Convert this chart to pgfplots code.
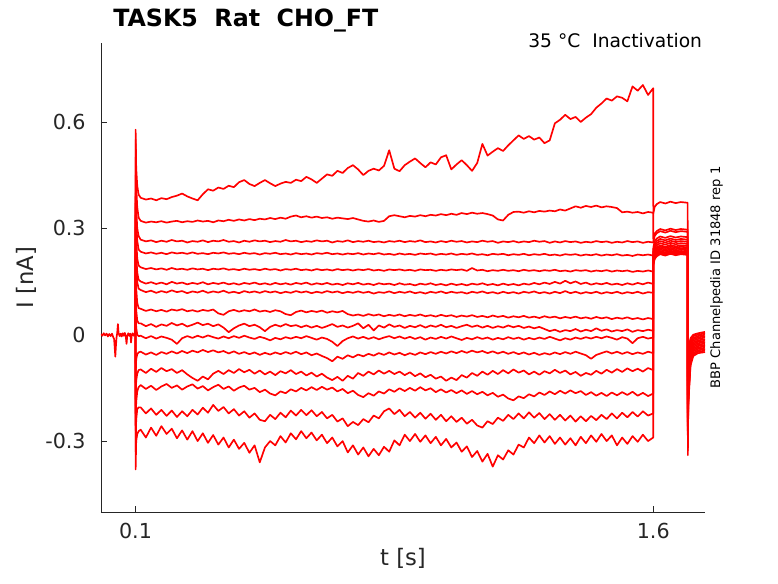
\documentclass[border=0pt]{standalone}
\usepackage{fontspec}
\setmainfont{DejaVu Sans}
\usepackage{pgfplots}
\pgfplotsset{compat=1.18}
\usepackage{pgfplotstable}
\definecolor{axgray}{rgb}{0.15,0.15,0.15}
\tikzset{tr/.style={red, line width=1.25pt, line join=round, mark=none}}

\pgfplotstableread[row sep=\\]{t y\\
0 0.002\\0.004 -0.003\\0.008 0.004\\0.012 -0.002\\0.016 0.003\\0.02 -0.005\\0.024 0.002\\0.028 -0.004\\0.032 0.003\\0.035 -0.006\\
0.038 -0.012\\0.04 -0.04\\0.0415 -0.062\\0.043 -0.035\\0.045 -0.008\\0.047 0.005\\0.049 0.03\\0.051 0.004\\0.054 -0.004\\0.057 0.003\\
0.06 -0.005\\0.063 0.004\\0.066 -0.003\\0.069 0.005\\0.072 -0.006\\0.074 -0.026\\0.076 -0.004\\0.079 0.004\\0.082 -0.003\\0.085 0.003\\
0.087 -0.022\\0.089 -0.002\\0.092 0.004\\0.095 -0.003\\0.098 0.003\\0.1 0\\
}\trbase

% trace 1
\pgfplotstableread[row sep=\\]{t y\\
0.1 0\\0.1003 0.578\\0.102 0.470\\0.105 0.420\\0.109 0.395\\
0.115 0.386\\0.13 0.381\\0.145 0.384\\0.16 0.379\\0.175 0.385\\0.19 0.382\\0.205 0.388\\0.22 0.392\\0.235 0.398\\0.25 0.390\\
0.265 0.384\\0.28 0.379\\0.295 0.396\\0.31 0.410\\0.325 0.406\\0.34 0.415\\0.355 0.411\\0.37 0.420\\0.385 0.416\\0.4 0.430\\
0.415 0.436\\0.43 0.425\\0.445 0.419\\0.46 0.428\\0.475 0.436\\0.49 0.427\\0.505 0.419\\0.52 0.426\\0.535 0.431\\0.55 0.428\\
0.565 0.437\\0.58 0.433\\0.595 0.445\\0.61 0.438\\0.625 0.428\\0.64 0.440\\0.655 0.452\\0.67 0.448\\0.685 0.462\\0.7 0.456\\
0.715 0.470\\0.73 0.478\\0.745 0.466\\0.76 0.450\\0.775 0.462\\0.79 0.468\\0.805 0.463\\0.82 0.476\\0.835 0.520\\0.85 0.468\\
0.865 0.461\\0.88 0.478\\0.895 0.488\\0.91 0.497\\0.925 0.484\\0.94 0.472\\0.955 0.486\\0.97 0.480\\0.985 0.500\\1.0 0.506\\
1.015 0.466\\1.03 0.480\\1.045 0.492\\1.06 0.478\\1.075 0.462\\1.09 0.484\\1.105 0.538\\1.12 0.505\\1.135 0.516\\1.15 0.526\\
1.165 0.518\\1.18 0.534\\1.195 0.548\\1.21 0.562\\1.225 0.552\\1.24 0.560\\1.255 0.550\\1.27 0.556\\1.285 0.540\\1.3 0.548\\
1.315 0.596\\1.33 0.606\\1.345 0.620\\1.36 0.608\\1.375 0.614\\1.39 0.600\\1.405 0.612\\1.42 0.622\\1.435 0.640\\1.45 0.652\\
1.465 0.666\\1.48 0.660\\1.495 0.672\\1.51 0.668\\1.525 0.658\\1.54 0.700\\1.555 0.688\\1.57 0.704\\1.585 0.676\\1.6 0.695\\
1.6003 0.342\\1.604 0.360\\1.61 0.368\\1.62 0.374\\1.635 0.370\\1.65 0.375\\1.665 0.371\\1.68 0.374\\1.6997 0.372\\
1.7003 -0.150\\1.7015 -0.090\\1.704 -0.030\\1.708 -0.010\\1.716 0.000\\1.73 0.004\\1.75 0.008\\
}\tra

% trace 2
\pgfplotstableread[row sep=\\]{t y\\
0.1 0\\0.1003 0.550\\0.102 0.420\\0.105 0.360\\0.109 0.330\\
0.115 0.321\\0.13 0.316\\0.145 0.319\\0.16 0.317\\0.175 0.320\\0.19 0.316\\0.205 0.319\\0.22 0.321\\0.235 0.317\\0.25 0.320\\
0.265 0.318\\0.28 0.322\\0.295 0.319\\0.31 0.321\\0.325 0.317\\0.34 0.322\\0.355 0.320\\0.37 0.324\\0.385 0.321\\0.4 0.325\\
0.415 0.322\\0.43 0.326\\0.445 0.323\\0.46 0.327\\0.475 0.325\\0.49 0.329\\0.505 0.326\\0.52 0.330\\0.535 0.327\\0.55 0.333\\
0.565 0.336\\0.58 0.331\\0.595 0.334\\0.61 0.330\\0.625 0.333\\0.64 0.329\\0.655 0.331\\0.67 0.327\\0.685 0.330\\0.7 0.328\\
0.715 0.326\\0.73 0.329\\0.745 0.325\\0.76 0.321\\0.775 0.319\\0.79 0.322\\0.805 0.318\\0.82 0.321\\0.835 0.334\\0.85 0.337\\
0.865 0.334\\0.88 0.331\\0.895 0.335\\0.91 0.333\\0.925 0.337\\0.94 0.334\\0.955 0.338\\0.97 0.336\\0.985 0.340\\1.0 0.337\\
1.015 0.341\\1.03 0.338\\1.045 0.343\\1.06 0.340\\1.075 0.344\\1.09 0.341\\1.105 0.343\\1.12 0.340\\1.135 0.336\\1.15 0.325\\
1.165 0.322\\1.18 0.338\\1.195 0.346\\1.21 0.347\\1.225 0.344\\1.24 0.348\\1.255 0.345\\1.27 0.349\\1.285 0.347\\1.3 0.350\\
1.315 0.348\\1.33 0.353\\1.345 0.350\\1.36 0.356\\1.375 0.362\\1.39 0.358\\1.405 0.363\\1.42 0.360\\1.435 0.364\\1.45 0.359\\
1.465 0.362\\1.48 0.360\\1.495 0.357\\1.51 0.345\\1.525 0.347\\1.54 0.344\\1.555 0.346\\1.57 0.342\\1.585 0.346\\1.6 0.344\\
1.6003 0.266\\1.604 0.284\\1.61 0.292\\1.62 0.298\\1.635 0.294\\1.65 0.299\\1.665 0.295\\1.68 0.298\\1.6997 0.296\\
1.7003 -0.164\\1.7015 -0.098\\1.704 -0.039\\1.708 -0.016\\1.716 -0.004\\1.73 0.000\\1.75 0.004\\
}\trb

% trace 3
\pgfplotstableread[row sep=\\]{t y\\
0.1 0\\0.1003 0.500\\0.102 0.360\\0.105 0.300\\0.109 0.278\\
0.115 0.268\\0.13 0.263\\0.145 0.266\\0.16 0.261\\0.175 0.265\\0.19 0.262\\0.205 0.267\\0.22 0.263\\0.235 0.265\\0.25 0.260\\
0.265 0.264\\0.28 0.262\\0.295 0.266\\0.31 0.261\\0.325 0.265\\0.34 0.263\\0.355 0.267\\0.37 0.262\\0.385 0.264\\0.4 0.260\\
0.415 0.265\\0.43 0.262\\0.445 0.266\\0.46 0.263\\0.475 0.265\\0.49 0.261\\0.505 0.264\\0.52 0.262\\0.535 0.267\\0.55 0.263\\
0.565 0.265\\0.58 0.261\\0.595 0.264\\0.61 0.262\\0.625 0.266\\0.64 0.263\\0.655 0.265\\0.67 0.260\\0.685 0.264\\0.7 0.262\\
0.715 0.266\\0.73 0.261\\0.745 0.264\\0.76 0.262\\0.775 0.265\\0.79 0.261\\0.805 0.263\\0.82 0.260\\0.835 0.264\\0.85 0.262\\
0.865 0.265\\0.88 0.261\\0.895 0.264\\0.91 0.262\\0.925 0.266\\0.94 0.261\\0.955 0.263\\0.97 0.260\\0.985 0.264\\1.0 0.261\\
1.015 0.265\\1.03 0.262\\1.045 0.264\\1.06 0.260\\1.075 0.263\\1.09 0.261\\1.105 0.265\\1.12 0.262\\1.135 0.264\\1.15 0.259\\
1.165 0.263\\1.18 0.261\\1.195 0.264\\1.21 0.260\\1.225 0.263\\1.24 0.261\\1.255 0.265\\1.27 0.262\\1.285 0.264\\1.3 0.259\\
1.315 0.263\\1.33 0.260\\1.345 0.264\\1.36 0.261\\1.375 0.263\\1.39 0.259\\1.405 0.262\\1.42 0.260\\1.435 0.264\\1.45 0.261\\
1.465 0.263\\1.48 0.259\\1.495 0.262\\1.51 0.260\\1.525 0.264\\1.54 0.261\\1.555 0.263\\1.57 0.259\\1.585 0.262\\1.6 0.260\\
1.6003 0.260\\1.604 0.278\\1.61 0.286\\1.62 0.292\\1.635 0.288\\1.65 0.293\\1.665 0.289\\1.68 0.292\\1.6997 0.290\\
1.7003 -0.177\\1.7015 -0.106\\1.704 -0.048\\1.708 -0.021\\1.716 -0.009\\1.73 -0.004\\1.75 0.000\\
}\trc

% trace 4
\pgfplotstableread[row sep=\\]{t y\\
0.1 0\\0.1003 0.450\\0.102 0.320\\0.105 0.265\\0.109 0.240\\
0.115 0.234\\0.13 0.229\\0.145 0.232\\0.16 0.228\\0.175 0.231\\0.19 0.227\\0.205 0.232\\0.22 0.229\\0.235 0.231\\0.25 0.228\\
0.265 0.232\\0.28 0.228\\0.295 0.230\\0.31 0.227\\0.325 0.231\\0.34 0.229\\0.355 0.232\\0.37 0.228\\0.385 0.230\\0.4 0.227\\
0.415 0.231\\0.43 0.228\\0.445 0.230\\0.46 0.226\\0.475 0.230\\0.49 0.228\\0.505 0.231\\0.52 0.227\\0.535 0.229\\0.55 0.226\\
0.565 0.230\\0.58 0.227\\0.595 0.229\\0.61 0.226\\0.625 0.230\\0.64 0.228\\0.655 0.231\\0.67 0.227\\0.685 0.229\\0.7 0.226\\
0.715 0.229\\0.73 0.227\\0.745 0.230\\0.76 0.226\\0.775 0.229\\0.79 0.227\\0.805 0.230\\0.82 0.226\\0.835 0.228\\0.85 0.225\\
0.865 0.229\\0.88 0.226\\0.895 0.228\\0.91 0.225\\0.925 0.229\\0.94 0.227\\0.955 0.229\\0.97 0.225\\0.985 0.228\\1.0 0.226\\
1.015 0.229\\1.03 0.225\\1.045 0.228\\1.06 0.226\\1.075 0.229\\1.09 0.225\\1.105 0.227\\1.12 0.224\\1.135 0.228\\1.15 0.226\\
1.165 0.228\\1.18 0.224\\1.195 0.227\\1.21 0.225\\1.225 0.228\\1.24 0.224\\1.255 0.227\\1.27 0.225\\1.285 0.228\\1.3 0.224\\
1.315 0.226\\1.33 0.223\\1.345 0.227\\1.36 0.225\\1.375 0.227\\1.39 0.223\\1.405 0.226\\1.42 0.224\\1.435 0.227\\1.45 0.223\\
1.465 0.226\\1.48 0.224\\1.495 0.227\\1.51 0.223\\1.525 0.225\\1.54 0.222\\1.555 0.226\\1.57 0.224\\1.585 0.226\\1.6 0.223\\
1.6003 0.245\\1.604 0.263\\1.61 0.271\\1.62 0.277\\1.635 0.273\\1.65 0.278\\1.665 0.274\\1.68 0.277\\1.6997 0.275\\
1.7003 -0.191\\1.7015 -0.115\\1.704 -0.057\\1.708 -0.027\\1.716 -0.013\\1.73 -0.008\\1.75 -0.004\\
}\trd

% trace 5
\pgfplotstableread[row sep=\\]{t y\\
0.1 0\\0.1003 0.400\\0.102 0.270\\0.105 0.215\\0.109 0.195\\
0.115 0.190\\0.13 0.185\\0.145 0.188\\0.16 0.184\\0.175 0.187\\0.19 0.183\\0.205 0.188\\0.22 0.184\\0.235 0.186\\0.25 0.183\\
0.265 0.187\\0.28 0.184\\0.295 0.186\\0.31 0.182\\0.325 0.186\\0.34 0.184\\0.355 0.187\\0.37 0.183\\0.385 0.185\\0.4 0.182\\
0.415 0.186\\0.43 0.183\\0.445 0.185\\0.46 0.182\\0.475 0.186\\0.49 0.183\\0.505 0.185\\0.52 0.181\\0.535 0.185\\0.55 0.183\\
0.565 0.186\\0.58 0.182\\0.595 0.184\\0.61 0.181\\0.625 0.185\\0.64 0.182\\0.655 0.184\\0.67 0.181\\0.685 0.185\\0.7 0.182\\
0.715 0.184\\0.73 0.181\\0.745 0.184\\0.76 0.182\\0.775 0.185\\0.79 0.181\\0.805 0.183\\0.82 0.180\\0.835 0.184\\0.85 0.182\\
0.865 0.184\\0.88 0.181\\0.895 0.183\\0.91 0.180\\0.925 0.184\\0.94 0.182\\0.955 0.183\\0.97 0.180\\0.985 0.183\\1.0 0.181\\
1.015 0.184\\1.03 0.182\\1.045 0.184\\1.06 0.180\\1.075 0.188\\1.09 0.181\\1.105 0.183\\1.12 0.179\\1.135 0.182\\1.15 0.180\\
1.165 0.183\\1.18 0.180\\1.195 0.182\\1.21 0.179\\1.225 0.183\\1.24 0.180\\1.255 0.182\\1.27 0.179\\1.285 0.182\\1.3 0.180\\
1.315 0.183\\1.33 0.179\\1.345 0.181\\1.36 0.178\\1.375 0.182\\1.39 0.180\\1.405 0.182\\1.42 0.178\\1.435 0.181\\1.45 0.179\\
1.465 0.182\\1.48 0.178\\1.495 0.181\\1.51 0.179\\1.525 0.181\\1.54 0.177\\1.555 0.180\\1.57 0.178\\1.585 0.181\\1.6 0.178\\
1.6003 0.238\\1.604 0.256\\1.61 0.264\\1.62 0.270\\1.635 0.266\\1.65 0.271\\1.665 0.267\\1.68 0.270\\1.6997 0.268\\
1.7003 -0.204\\1.7015 -0.122\\1.704 -0.066\\1.708 -0.032\\1.716 -0.017\\1.73 -0.012\\1.75 -0.008\\
}\tre

% trace 6
\pgfplotstableread[row sep=\\]{t y\\
0.1 0\\0.1003 0.360\\0.102 0.230\\0.105 0.175\\0.109 0.155\\
0.115 0.150\\0.13 0.144\\0.145 0.148\\0.16 0.143\\0.175 0.147\\0.19 0.142\\0.205 0.149\\0.22 0.144\\0.235 0.147\\0.25 0.142\\
0.265 0.146\\0.28 0.143\\0.295 0.148\\0.31 0.142\\0.325 0.146\\0.34 0.143\\0.355 0.147\\0.37 0.142\\0.385 0.145\\0.4 0.141\\
0.415 0.146\\0.43 0.143\\0.445 0.147\\0.46 0.142\\0.475 0.145\\0.49 0.141\\0.505 0.146\\0.52 0.142\\0.535 0.145\\0.55 0.141\\
0.565 0.146\\0.58 0.143\\0.595 0.147\\0.61 0.141\\0.625 0.145\\0.64 0.142\\0.655 0.146\\0.67 0.141\\0.685 0.144\\0.7 0.140\\
0.715 0.145\\0.73 0.142\\0.745 0.146\\0.76 0.141\\0.775 0.144\\0.79 0.140\\0.805 0.145\\0.82 0.142\\0.835 0.144\\0.85 0.140\\
0.865 0.145\\0.88 0.141\\0.895 0.143\\0.91 0.139\\0.925 0.144\\0.94 0.141\\0.955 0.145\\0.97 0.140\\0.985 0.143\\1.0 0.139\\
1.015 0.144\\1.03 0.140\\1.045 0.143\\1.06 0.139\\1.075 0.144\\1.09 0.141\\1.105 0.145\\1.12 0.140\\1.135 0.143\\1.15 0.139\\
1.165 0.144\\1.18 0.140\\1.195 0.143\\1.21 0.139\\1.225 0.144\\1.24 0.141\\1.255 0.146\\1.27 0.142\\1.285 0.147\\1.3 0.143\\
1.315 0.149\\1.33 0.144\\1.345 0.152\\1.36 0.145\\1.375 0.150\\1.39 0.143\\1.405 0.147\\1.42 0.141\\1.435 0.145\\1.45 0.142\\
1.465 0.146\\1.48 0.141\\1.495 0.144\\1.51 0.140\\1.525 0.145\\1.54 0.141\\1.555 0.146\\1.57 0.142\\1.585 0.147\\1.6 0.143\\
1.6003 0.232\\1.604 0.250\\1.61 0.258\\1.62 0.264\\1.635 0.260\\1.65 0.265\\1.665 0.261\\1.68 0.264\\1.6997 0.262\\
1.7003 -0.218\\1.7015 -0.131\\1.704 -0.075\\1.708 -0.038\\1.716 -0.022\\1.73 -0.016\\1.75 -0.013\\
}\trf

% trace 7
\pgfplotstableread[row sep=\\]{t y\\
0.1 0\\0.1003 0.330\\0.102 0.200\\0.105 0.148\\0.109 0.130\\
0.115 0.126\\0.13 0.120\\0.145 0.124\\0.16 0.118\\0.175 0.123\\0.19 0.119\\0.205 0.125\\0.22 0.120\\0.235 0.123\\0.25 0.117\\
0.265 0.122\\0.28 0.119\\0.295 0.124\\0.31 0.118\\0.325 0.122\\0.34 0.119\\0.355 0.124\\0.37 0.118\\0.385 0.121\\0.4 0.117\\
0.415 0.123\\0.43 0.119\\0.445 0.122\\0.46 0.118\\0.475 0.123\\0.49 0.119\\0.505 0.122\\0.52 0.117\\0.535 0.121\\0.55 0.118\\
0.565 0.123\\0.58 0.119\\0.595 0.122\\0.61 0.117\\0.625 0.121\\0.64 0.118\\0.655 0.123\\0.67 0.119\\0.685 0.122\\0.7 0.117\\
0.715 0.121\\0.73 0.118\\0.745 0.122\\0.76 0.118\\0.775 0.121\\0.79 0.116\\0.805 0.120\\0.82 0.118\\0.835 0.122\\0.85 0.117\\
0.865 0.121\\0.88 0.118\\0.895 0.122\\0.91 0.117\\0.925 0.120\\0.94 0.116\\0.955 0.121\\0.97 0.118\\0.985 0.122\\1.0 0.117\\
1.015 0.121\\1.03 0.118\\1.045 0.120\\1.06 0.116\\1.075 0.121\\1.09 0.118\\1.105 0.122\\1.12 0.117\\1.135 0.120\\1.15 0.116\\
1.165 0.121\\1.18 0.117\\1.195 0.120\\1.21 0.116\\1.225 0.121\\1.24 0.118\\1.255 0.122\\1.27 0.117\\1.285 0.120\\1.3 0.116\\
1.315 0.121\\1.33 0.117\\1.345 0.123\\1.36 0.117\\1.375 0.121\\1.39 0.116\\1.405 0.120\\1.42 0.117\\1.435 0.121\\1.45 0.116\\
1.465 0.120\\1.48 0.117\\1.495 0.121\\1.51 0.116\\1.525 0.120\\1.54 0.117\\1.555 0.121\\1.57 0.116\\1.585 0.120\\1.6 0.118\\
1.6003 0.226\\1.604 0.244\\1.61 0.252\\1.62 0.258\\1.635 0.254\\1.65 0.259\\1.665 0.255\\1.68 0.258\\1.6997 0.256\\
1.7003 -0.232\\1.7015 -0.139\\1.704 -0.084\\1.708 -0.043\\1.716 -0.026\\1.73 -0.020\\1.75 -0.017\\
}\trg

% trace 8
\pgfplotstableread[row sep=\\]{t y\\
0.1 0\\0.1003 0.250\\0.102 0.130\\0.105 0.090\\0.109 0.075\\
0.115 0.073\\0.13 0.067\\0.145 0.071\\0.16 0.066\\0.175 0.070\\0.19 0.065\\0.205 0.071\\0.22 0.068\\0.235 0.072\\0.25 0.066\\
0.265 0.069\\0.28 0.065\\0.295 0.070\\0.31 0.067\\0.325 0.071\\0.34 0.060\\0.355 0.056\\0.37 0.066\\0.385 0.070\\0.4 0.065\\
0.415 0.069\\0.43 0.066\\0.445 0.071\\0.46 0.065\\0.475 0.068\\0.49 0.064\\0.505 0.069\\0.52 0.066\\0.535 0.058\\0.55 0.055\\
0.565 0.064\\0.58 0.068\\0.595 0.063\\0.61 0.067\\0.625 0.064\\0.64 0.068\\0.655 0.062\\0.67 0.066\\0.685 0.063\\0.7 0.067\\
0.715 0.058\\0.73 0.054\\0.745 0.057\\0.76 0.053\\0.775 0.058\\0.79 0.054\\0.805 0.057\\0.82 0.052\\0.835 0.056\\0.85 0.053\\
0.865 0.057\\0.88 0.052\\0.895 0.056\\0.91 0.053\\0.925 0.057\\0.94 0.052\\0.955 0.055\\0.97 0.051\\0.985 0.056\\1.0 0.052\\
1.015 0.055\\1.03 0.050\\1.045 0.054\\1.06 0.051\\1.075 0.055\\1.09 0.050\\1.105 0.053\\1.12 0.049\\1.135 0.054\\1.15 0.050\\
1.165 0.053\\1.18 0.048\\1.195 0.052\\1.21 0.049\\1.225 0.053\\1.24 0.048\\1.255 0.051\\1.27 0.047\\1.285 0.052\\1.3 0.048\\
1.315 0.051\\1.33 0.046\\1.345 0.050\\1.36 0.047\\1.375 0.051\\1.39 0.046\\1.405 0.049\\1.42 0.045\\1.435 0.050\\1.45 0.046\\
1.465 0.049\\1.48 0.044\\1.495 0.048\\1.51 0.045\\1.525 0.049\\1.54 0.044\\1.555 0.047\\1.57 0.043\\1.585 0.047\\1.6 0.044\\
1.6003 0.220\\1.604 0.238\\1.61 0.246\\1.62 0.252\\1.635 0.248\\1.65 0.253\\1.665 0.249\\1.68 0.252\\1.6997 0.250\\
1.7003 -0.245\\1.7015 -0.147\\1.704 -0.093\\1.708 -0.049\\1.716 -0.030\\1.73 -0.024\\1.75 -0.021\\
}\trh

% trace 9
\pgfplotstableread[row sep=\\]{t y\\
0.1 0\\0.1003 0.150\\0.102 0.070\\0.105 0.040\\0.109 0.032\\
0.115 0.032\\0.13 0.024\\0.145 0.030\\0.16 0.022\\0.175 0.029\\0.19 0.025\\0.205 0.033\\0.22 0.026\\0.235 0.031\\0.25 0.023\\
0.265 0.028\\0.28 0.034\\0.295 0.027\\0.31 0.031\\0.325 0.024\\0.34 0.029\\0.355 0.020\\0.37 0.007\\0.385 0.018\\0.4 0.026\\
0.415 0.031\\0.43 0.024\\0.445 0.028\\0.46 0.021\\0.475 0.010\\0.49 0.022\\0.505 0.028\\0.52 0.023\\0.535 0.030\\0.55 0.024\\
0.565 0.027\\0.58 0.021\\0.595 0.026\\0.61 0.020\\0.625 0.025\\0.64 0.019\\0.655 0.024\\0.67 0.030\\0.685 0.022\\0.7 0.026\\
0.715 0.020\\0.73 0.025\\0.745 0.032\\0.76 0.018\\0.775 0.028\\0.79 0.012\\0.805 0.026\\0.82 0.020\\0.835 0.029\\0.85 0.022\\
0.865 0.026\\0.88 0.019\\0.895 0.025\\0.91 0.021\\0.925 0.027\\0.94 0.020\\0.955 0.026\\0.97 0.022\\0.985 0.028\\1.0 0.021\\
1.015 0.025\\1.03 0.019\\1.045 0.024\\1.06 0.028\\1.075 0.022\\1.09 0.026\\1.105 0.020\\1.12 0.025\\1.135 0.019\\1.15 0.024\\
1.165 0.020\\1.18 0.026\\1.195 0.021\\1.21 0.025\\1.225 0.019\\1.24 0.023\\1.255 0.018\\1.27 0.022\\1.285 0.016\\1.3 0.010\\
1.315 0.014\\1.33 0.008\\1.345 0.013\\1.36 0.010\\1.375 0.016\\1.39 0.009\\1.405 0.014\\1.42 0.010\\1.435 0.018\\1.45 0.011\\
1.465 0.015\\1.48 0.009\\1.495 0.013\\1.51 0.010\\1.525 0.015\\1.54 0.008\\1.555 0.013\\1.57 0.010\\1.585 0.014\\1.6 0.011\\
1.6003 0.216\\1.604 0.234\\1.61 0.242\\1.62 0.248\\1.635 0.244\\1.65 0.249\\1.665 0.245\\1.68 0.248\\1.6997 0.246\\
1.7003 -0.259\\1.7015 -0.155\\1.704 -0.102\\1.708 -0.054\\1.716 -0.034\\1.73 -0.028\\1.75 -0.025\\
}\tri

% trace 10
\pgfplotstableread[row sep=\\]{t y\\
0.1 0\\0.1003 0.080\\0.102 0.020\\0.105 0.000\\0.109 -0.004\\
0.115 -0.003\\0.13 -0.010\\0.145 -0.004\\0.16 -0.011\\0.175 -0.005\\0.19 -0.009\\0.205 -0.014\\0.22 -0.026\\0.235 -0.010\\0.25 -0.004\\
0.265 -0.009\\0.28 -0.003\\0.295 -0.008\\0.31 -0.002\\0.325 -0.007\\0.34 -0.011\\0.355 -0.005\\0.37 -0.010\\0.385 -0.004\\0.4 -0.009\\
0.415 -0.003\\0.43 -0.008\\0.445 -0.012\\0.46 -0.006\\0.475 -0.010\\0.49 -0.016\\0.505 -0.009\\0.52 -0.013\\0.535 -0.007\\0.55 -0.011\\
0.565 -0.006\\0.58 -0.010\\0.595 -0.004\\0.61 -0.009\\0.625 -0.014\\0.64 -0.008\\0.655 -0.012\\0.67 -0.020\\0.685 -0.032\\0.7 -0.018\\
0.715 -0.010\\0.73 -0.005\\0.745 -0.011\\0.76 -0.006\\0.775 -0.012\\0.79 -0.007\\0.805 -0.013\\0.82 -0.008\\0.835 -0.004\\0.85 -0.010\\
0.865 -0.005\\0.88 -0.011\\0.895 -0.006\\0.91 -0.012\\0.925 -0.007\\0.94 -0.014\\0.955 -0.008\\0.97 -0.012\\0.985 -0.006\\1.0 -0.011\\
1.015 -0.005\\1.03 -0.010\\1.045 -0.015\\1.06 -0.009\\1.075 -0.013\\1.09 -0.007\\1.105 -0.012\\1.12 -0.008\\1.135 -0.014\\1.15 -0.009\\
1.165 -0.013\\1.18 -0.007\\1.195 -0.012\\1.21 -0.008\\1.225 -0.014\\1.24 -0.009\\1.255 -0.013\\1.27 -0.008\\1.285 -0.012\\1.3 -0.006\\
1.315 -0.011\\1.33 -0.016\\1.345 -0.010\\1.36 -0.014\\1.375 -0.008\\1.39 -0.012\\1.405 -0.007\\1.42 -0.011\\1.435 -0.006\\1.45 -0.010\\
1.465 -0.005\\1.48 -0.009\\1.495 -0.014\\1.51 -0.007\\1.525 -0.011\\1.54 -0.024\\1.555 -0.010\\1.57 -0.006\\1.585 -0.011\\1.6 -0.008\\
1.6003 0.212\\1.604 0.230\\1.61 0.238\\1.62 0.244\\1.635 0.240\\1.65 0.245\\1.665 0.241\\1.68 0.244\\1.6997 0.242\\
1.7003 -0.272\\1.7015 -0.163\\1.704 -0.111\\1.708 -0.060\\1.716 -0.039\\1.73 -0.032\\1.75 -0.029\\
}\trj

% trace 11
\pgfplotstableread[row sep=\\]{t y\\
0.1 0\\0.1003 -0.120\\0.102 -0.070\\0.105 -0.055\\0.109 -0.050\\
0.115 -0.048\\0.13 -0.056\\0.145 -0.050\\0.16 -0.057\\0.175 -0.049\\0.19 -0.054\\0.205 -0.047\\0.22 -0.053\\0.235 -0.046\\0.25 -0.052\\
0.265 -0.045\\0.28 -0.050\\0.295 -0.043\\0.31 -0.049\\0.325 -0.044\\0.34 -0.050\\0.355 -0.046\\0.37 -0.053\\0.385 -0.047\\0.4 -0.054\\
0.415 -0.049\\0.43 -0.055\\0.445 -0.050\\0.46 -0.057\\0.475 -0.051\\0.49 -0.056\\0.505 -0.050\\0.52 -0.055\\0.535 -0.049\\0.55 -0.054\\
0.565 -0.048\\0.58 -0.055\\0.595 -0.050\\0.61 -0.058\\0.625 -0.053\\0.64 -0.060\\0.655 -0.066\\0.67 -0.075\\0.685 -0.062\\0.7 -0.068\\
0.715 -0.058\\0.73 -0.064\\0.745 -0.056\\0.76 -0.061\\0.775 -0.054\\0.79 -0.059\\0.805 -0.052\\0.82 -0.057\\0.835 -0.050\\0.85 -0.056\\
0.865 -0.051\\0.88 -0.058\\0.895 -0.052\\0.91 -0.057\\0.925 -0.050\\0.94 -0.055\\0.955 -0.049\\0.97 -0.054\\0.985 -0.048\\1.0 -0.053\\
1.015 -0.047\\1.03 -0.052\\1.045 -0.046\\1.06 -0.051\\1.075 -0.045\\1.09 -0.050\\1.105 -0.046\\1.12 -0.052\\1.135 -0.047\\1.15 -0.053\\
1.165 -0.048\\1.18 -0.054\\1.195 -0.049\\1.21 -0.055\\1.225 -0.050\\1.24 -0.056\\1.255 -0.051\\1.27 -0.057\\1.285 -0.052\\1.3 -0.056\\
1.315 -0.050\\1.33 -0.055\\1.345 -0.049\\1.36 -0.054\\1.375 -0.048\\1.39 -0.053\\1.405 -0.058\\1.42 -0.068\\1.435 -0.057\\1.45 -0.052\\
1.465 -0.047\\1.48 -0.053\\1.495 -0.048\\1.51 -0.054\\1.525 -0.049\\1.54 -0.055\\1.555 -0.050\\1.57 -0.054\\1.585 -0.048\\1.6 -0.052\\
1.6003 0.208\\1.604 0.226\\1.61 0.234\\1.62 0.240\\1.635 0.236\\1.65 0.241\\1.665 0.237\\1.68 0.240\\1.6997 0.238\\
1.7003 -0.286\\1.7015 -0.172\\1.704 -0.120\\1.708 -0.065\\1.716 -0.043\\1.73 -0.036\\1.75 -0.033\\
}\trk

% trace 12
\pgfplotstableread[row sep=\\]{t y\\
0.1 0\\0.1003 -0.200\\0.102 -0.130\\0.105 -0.110\\0.109 -0.100\\
0.115 -0.098\\0.13 -0.108\\0.145 -0.096\\0.16 -0.105\\0.175 -0.094\\0.19 -0.103\\0.205 -0.097\\0.22 -0.108\\0.235 -0.100\\0.25 -0.112\\
0.265 -0.122\\0.28 -0.130\\0.295 -0.118\\0.31 -0.126\\0.325 -0.110\\0.34 -0.102\\0.355 -0.111\\0.37 -0.100\\0.385 -0.108\\0.4 -0.097\\
0.415 -0.106\\0.43 -0.099\\0.445 -0.110\\0.46 -0.101\\0.475 -0.112\\0.49 -0.104\\0.505 -0.114\\0.52 -0.103\\0.535 -0.109\\0.55 -0.100\\
0.565 -0.111\\0.58 -0.104\\0.595 -0.115\\0.61 -0.107\\0.625 -0.118\\0.64 -0.110\\0.655 -0.121\\0.67 -0.128\\0.685 -0.119\\0.7 -0.130\\
0.715 -0.116\\0.73 -0.124\\0.745 -0.108\\0.76 -0.116\\0.775 -0.104\\0.79 -0.112\\0.805 -0.101\\0.82 -0.110\\0.835 -0.102\\0.85 -0.111\\
0.865 -0.104\\0.88 -0.114\\0.895 -0.106\\0.91 -0.117\\0.925 -0.109\\0.94 -0.120\\0.955 -0.113\\0.97 -0.124\\0.985 -0.118\\1.0 -0.130\\
1.015 -0.121\\1.03 -0.128\\1.045 -0.114\\1.06 -0.121\\1.075 -0.108\\1.09 -0.116\\1.105 -0.104\\1.12 -0.113\\1.135 -0.102\\1.15 -0.111\\
1.165 -0.100\\1.18 -0.109\\1.195 -0.098\\1.21 -0.107\\1.225 -0.101\\1.24 -0.112\\1.255 -0.104\\1.27 -0.113\\1.285 -0.103\\1.3 -0.109\\
1.315 -0.099\\1.33 -0.108\\1.345 -0.101\\1.36 -0.112\\1.375 -0.105\\1.39 -0.116\\1.405 -0.108\\1.42 -0.113\\1.435 -0.102\\1.45 -0.110\\
1.465 -0.099\\1.48 -0.107\\1.495 -0.097\\1.51 -0.105\\1.525 -0.095\\1.54 -0.103\\1.555 -0.096\\1.57 -0.104\\1.585 -0.094\\1.6 -0.100\\
1.6003 0.204\\1.604 0.222\\1.61 0.230\\1.62 0.236\\1.635 0.232\\1.65 0.237\\1.665 0.233\\1.68 0.236\\1.6997 0.234\\
1.7003 -0.300\\1.7015 -0.180\\1.704 -0.129\\1.708 -0.071\\1.716 -0.047\\1.73 -0.040\\1.75 -0.037\\
}\trl

% trace 13
\pgfplotstableread[row sep=\\]{t y\\
0.1 0\\0.1003 -0.270\\0.102 -0.190\\0.105 -0.160\\0.109 -0.148\\
0.115 -0.142\\0.13 -0.153\\0.145 -0.144\\0.16 -0.156\\0.175 -0.146\\0.19 -0.139\\0.205 -0.150\\0.22 -0.143\\0.235 -0.155\\0.25 -0.146\\
0.265 -0.140\\0.28 -0.152\\0.295 -0.145\\0.31 -0.157\\0.325 -0.148\\0.34 -0.141\\0.355 -0.153\\0.37 -0.146\\0.385 -0.158\\0.4 -0.149\\
0.415 -0.144\\0.43 -0.155\\0.445 -0.150\\0.46 -0.162\\0.475 -0.155\\0.49 -0.166\\0.505 -0.171\\0.52 -0.160\\0.535 -0.165\\0.55 -0.154\\
0.565 -0.160\\0.58 -0.150\\0.595 -0.157\\0.61 -0.148\\0.625 -0.156\\0.64 -0.147\\0.655 -0.155\\0.67 -0.149\\0.685 -0.160\\0.7 -0.153\\
0.715 -0.165\\0.73 -0.158\\0.745 -0.170\\0.76 -0.176\\0.775 -0.165\\0.79 -0.172\\0.805 -0.160\\0.82 -0.166\\0.835 -0.154\\0.85 -0.161\\
0.865 -0.151\\0.88 -0.159\\0.895 -0.150\\0.91 -0.158\\0.925 -0.148\\0.94 -0.157\\0.955 -0.151\\0.97 -0.162\\0.985 -0.154\\1.0 -0.163\\
1.015 -0.156\\1.03 -0.165\\1.045 -0.157\\1.06 -0.167\\1.075 -0.159\\1.09 -0.168\\1.105 -0.161\\1.12 -0.171\\1.135 -0.164\\1.15 -0.175\\
1.165 -0.169\\1.18 -0.180\\1.195 -0.185\\1.21 -0.174\\1.225 -0.179\\1.24 -0.168\\1.255 -0.174\\1.27 -0.163\\1.285 -0.170\\1.3 -0.160\\
1.315 -0.168\\1.33 -0.158\\1.345 -0.166\\1.36 -0.157\\1.375 -0.165\\1.39 -0.159\\1.405 -0.170\\1.42 -0.162\\1.435 -0.172\\1.45 -0.164\\
1.465 -0.173\\1.48 -0.163\\1.495 -0.171\\1.51 -0.162\\1.525 -0.170\\1.54 -0.161\\1.555 -0.172\\1.57 -0.164\\1.585 -0.173\\1.6 -0.166\\
1.6003 0.201\\1.604 0.219\\1.61 0.227\\1.62 0.233\\1.635 0.229\\1.65 0.234\\1.665 0.230\\1.68 0.233\\1.6997 0.231\\
1.7003 -0.313\\1.7015 -0.188\\1.704 -0.138\\1.708 -0.076\\1.716 -0.052\\1.73 -0.044\\1.75 -0.041\\
}\trm

% trace 14
\pgfplotstableread[row sep=\\]{t y\\
0.1 0\\0.1003 -0.330\\0.102 -0.240\\0.105 -0.210\\0.109 -0.205\\
0.115 -0.205\\0.13 -0.222\\0.145 -0.208\\0.16 -0.226\\0.175 -0.212\\0.19 -0.229\\0.205 -0.214\\0.22 -0.232\\0.235 -0.216\\0.25 -0.230\\
0.265 -0.212\\0.28 -0.225\\0.295 -0.206\\0.31 -0.220\\0.325 -0.198\\0.34 -0.215\\0.355 -0.204\\0.37 -0.222\\0.385 -0.210\\0.4 -0.228\\
0.415 -0.216\\0.43 -0.234\\0.445 -0.222\\0.46 -0.240\\0.475 -0.244\\0.49 -0.226\\0.505 -0.238\\0.52 -0.220\\0.535 -0.233\\0.55 -0.214\\
0.565 -0.228\\0.58 -0.212\\0.595 -0.227\\0.61 -0.213\\0.625 -0.230\\0.64 -0.218\\0.655 -0.236\\0.67 -0.226\\0.685 -0.245\\0.7 -0.236\\
0.715 -0.258\\0.73 -0.246\\0.745 -0.255\\0.76 -0.238\\0.775 -0.247\\0.79 -0.228\\0.805 -0.236\\0.82 -0.216\\0.835 -0.208\\0.85 -0.224\\
0.865 -0.212\\0.88 -0.230\\0.895 -0.218\\0.91 -0.234\\0.925 -0.220\\0.94 -0.237\\0.955 -0.223\\0.97 -0.240\\0.985 -0.226\\1.0 -0.244\\
1.015 -0.230\\1.03 -0.246\\1.045 -0.234\\1.06 -0.251\\1.075 -0.240\\1.09 -0.256\\1.105 -0.262\\1.12 -0.244\\1.135 -0.252\\1.15 -0.234\\
1.165 -0.243\\1.18 -0.226\\1.195 -0.238\\1.21 -0.222\\1.225 -0.236\\1.24 -0.219\\1.255 -0.234\\1.27 -0.221\\1.285 -0.238\\1.3 -0.224\\
1.315 -0.240\\1.33 -0.226\\1.345 -0.242\\1.36 -0.228\\1.375 -0.245\\1.39 -0.230\\1.405 -0.244\\1.42 -0.229\\1.435 -0.241\\1.45 -0.226\\
1.465 -0.238\\1.48 -0.222\\1.495 -0.236\\1.51 -0.220\\1.525 -0.233\\1.54 -0.218\\1.555 -0.231\\1.57 -0.216\\1.585 -0.228\\1.6 -0.222\\
1.6003 0.198\\1.604 0.216\\1.61 0.224\\1.62 0.230\\1.635 0.226\\1.65 0.231\\1.665 0.227\\1.68 0.230\\1.6997 0.228\\
1.7003 -0.327\\1.7015 -0.196\\1.704 -0.147\\1.708 -0.082\\1.716 -0.056\\1.73 -0.048\\1.75 -0.045\\
}\trn

% trace 15
\pgfplotstableread[row sep=\\]{t y\\
0.1 0\\0.1003 -0.380\\0.102 -0.300\\0.105 -0.280\\0.109 -0.272\\
0.115 -0.268\\0.13 -0.290\\0.145 -0.262\\0.16 -0.285\\0.175 -0.258\\0.19 -0.280\\0.205 -0.265\\0.22 -0.292\\0.235 -0.270\\0.25 -0.296\\
0.265 -0.272\\0.28 -0.300\\0.295 -0.278\\0.31 -0.305\\0.325 -0.283\\0.34 -0.310\\0.355 -0.290\\0.37 -0.318\\0.385 -0.296\\0.4 -0.322\\
0.415 -0.305\\0.43 -0.333\\0.445 -0.312\\0.46 -0.360\\0.475 -0.318\\0.49 -0.300\\0.505 -0.312\\0.52 -0.286\\0.535 -0.304\\0.55 -0.278\\
0.565 -0.295\\0.58 -0.272\\0.595 -0.292\\0.61 -0.276\\0.625 -0.298\\0.64 -0.282\\0.655 -0.306\\0.67 -0.290\\0.685 -0.315\\0.7 -0.300\\
0.715 -0.332\\0.73 -0.312\\0.745 -0.338\\0.76 -0.318\\0.775 -0.343\\0.79 -0.322\\0.805 -0.340\\0.82 -0.316\\0.835 -0.330\\0.85 -0.298\\
0.865 -0.312\\0.88 -0.282\\0.895 -0.300\\0.91 -0.280\\0.925 -0.302\\0.94 -0.284\\0.955 -0.306\\0.97 -0.288\\0.985 -0.312\\1.0 -0.294\\
1.015 -0.318\\1.03 -0.304\\1.045 -0.330\\1.06 -0.315\\1.075 -0.345\\1.09 -0.328\\1.105 -0.358\\1.12 -0.336\\1.135 -0.372\\1.15 -0.340\\
1.165 -0.352\\1.18 -0.326\\1.195 -0.338\\1.21 -0.310\\1.225 -0.318\\1.24 -0.290\\1.255 -0.306\\1.27 -0.284\\1.285 -0.304\\1.3 -0.286\\
1.315 -0.308\\1.33 -0.290\\1.345 -0.310\\1.36 -0.292\\1.375 -0.312\\1.39 -0.288\\1.405 -0.306\\1.42 -0.284\\1.435 -0.302\\1.45 -0.280\\
1.465 -0.300\\1.48 -0.284\\1.495 -0.312\\1.51 -0.290\\1.525 -0.308\\1.54 -0.286\\1.555 -0.302\\1.57 -0.282\\1.585 -0.300\\1.6 -0.290\\
1.6003 0.195\\1.604 0.213\\1.61 0.221\\1.62 0.227\\1.635 0.223\\1.65 0.228\\1.665 0.224\\1.68 0.227\\1.6997 0.225\\
1.7003 -0.340\\1.7015 -0.204\\1.704 -0.156\\1.708 -0.087\\1.716 -0.060\\1.73 -0.052\\1.75 -0.049\\
}\tro

\begin{document}
\begin{tikzpicture}
\begin{axis}[
  scale only axis, width=453pt, height=351.75pt,
  xmin=0, xmax=1.75, ymin=-0.5, ymax=0.8225,
  axis lines*=left,
  axis line style={draw=axgray, line width=0.6pt},
  xtick={0.1,1.6}, xticklabels={0.1,1.6},
  ytick={-0.3,0,0.3,0.6}, yticklabels={-0.3,0,0.3,0.6},
  tick align=inside, major tick length=4.5pt,
  tick style={draw=axgray, line width=0.5pt},
  tick label style={font=\fontsize{15.5}{18}\selectfont, text=axgray},
  xticklabel style={yshift=-5pt},
  yticklabel style={xshift=-8pt},
  xlabel={t [s]}, ylabel={I [nA]},
  label style={font=\fontsize{17}{20}\selectfont, text=axgray},
]
\addplot[tr] table[x=t,y=y] {\trbase};
\addplot[tr] table[x=t,y=y] {\tra};
\addplot[tr] table[x=t,y=y] {\trb};
\addplot[tr] table[x=t,y=y] {\trc};
\addplot[tr] table[x=t,y=y] {\trd};
\addplot[tr] table[x=t,y=y] {\tre};
\addplot[tr] table[x=t,y=y] {\trf};
\addplot[tr] table[x=t,y=y] {\trg};
\addplot[tr] table[x=t,y=y] {\trh};
\addplot[tr] table[x=t,y=y] {\tri};
\addplot[tr] table[x=t,y=y] {\trj};
\addplot[tr] table[x=t,y=y] {\trk};
\addplot[tr] table[x=t,y=y] {\trl};
\addplot[tr] table[x=t,y=y] {\trm};
\addplot[tr] table[x=t,y=y] {\trn};
\addplot[tr] table[x=t,y=y] {\tro};
\coordinate (O) at (rel axis cs:0,0);
\coordinate (NW) at (rel axis cs:0,1);
\coordinate (NE) at (rel axis cs:1,1);
\coordinate (E) at (rel axis cs:1,0.5);
\end{axis}
\node[anchor=base west, inner sep=0pt, font=\bfseries\fontsize{17.8}{20}\selectfont] at ([xshift=9pt,yshift=12pt]NW) {TASK5\ \ Rat\ \ CHO\_FT};
\node[anchor=base east, inner sep=0pt, font=\fontsize{14}{16}\selectfont] at ([xshift=-2pt,yshift=-3.2pt]NE) {35 °C\ \ Inactivation};
\node[rotate=90, anchor=base, inner sep=0pt, font=\fontsize{9.8}{12}\selectfont] at ([xshift=11.25pt]E) {BBP Channelpedia ID 31848 rep 1};
\pgfresetboundingbox
\path[use as bounding box] ([xshift=-75.75pt,yshift=-53.25pt]O) rectangle ++(583.5pt,437.25pt);
\end{tikzpicture}
\end{document}
